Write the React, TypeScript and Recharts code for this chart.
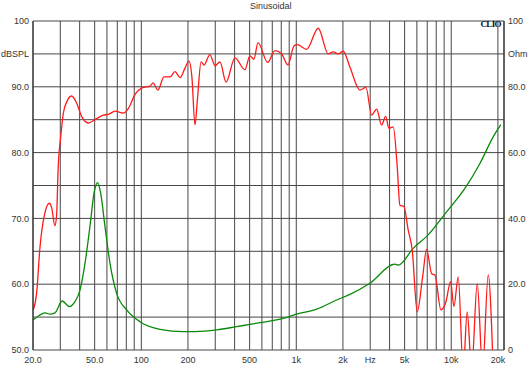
import { LineChart, Line, XAxis, YAxis, CartesianGrid } from "recharts";

// SPL response (red), Hz / dB
const splFreq = [
  20.1, 21.1, 22.2, 23.6, 25.5, 26.4, 27.7, 28.4, 29.1, 30.2, 31.4, 33.0, 35.5,
  38.3, 41.2, 45.5, 50.2, 56.8, 61.2, 67.6, 76.5, 82.4, 91, 103, 114, 119, 128,
  140, 153, 165, 178, 191, 203, 212, 222, 230, 243, 254, 277, 299, 322, 352,
  402, 466, 502, 533, 566, 654, 728, 804, 884, 966, 1014, 1166, 1386, 1608,
  1731, 1865, 2009, 2218, 2576, 2816, 3064, 3300, 3554, 3772, 3963, 4224, 4480,
  4664, 4950, 5278, 5600, 6033, 6536, 6934, 7472, 7846, 8578, 9238, 9906,
  10404, 11092, 11944, 12676, 13534, 14712, 15938, 17314, 18652,
];
const splDb = [
  56.1, 58.6, 65.7, 70.3, 72.3, 71.6, 68.9, 70.5, 77.9, 82.4, 86.0, 87.7, 88.6,
  87.5, 85.5, 84.5, 85.0, 85.7, 85.8, 86.3, 86.0, 86.7, 88.8, 89.9, 90.1, 90.6,
  89.5, 91.5, 91.5, 92.3, 91.4, 92.8, 93.9, 91.5, 84.2, 88.0, 93.8, 93.3, 94.9,
  93.2, 93.8, 90.7, 94.4, 92.6, 94.7, 94.2, 96.7, 93.7, 95.5, 95.0, 93.3, 96.2,
  96.4, 95.7, 98.9, 95.0, 95.3, 95.0, 95.4, 93.0, 89.5, 89.9, 85.7, 86.6, 84.2,
  85.5, 83.7, 83.9, 77.9, 72.0, 71.8, 68.2, 65.2, 55.8, 61.1, 65.3, 61.6, 61.4,
  56.1, 57.3, 60.4, 56.6, 61.1, 47, 55.8, 47, 60.1, 47, 61.4, 47,
];

// impedance (green), Hz / Ohm
const impFreq = [
  20, 21.9, 23.9, 25.7, 27.7, 30.9, 34.3, 37.3, 40.2, 43.3, 46.6, 49.7, 52.3,
  54.7, 58.3, 62.8, 69.3, 80.4, 98, 132, 187, 222, 306, 412, 583, 824, 1005,
  1354, 1822, 2218, 2988, 4330, 4548, 5682, 7100, 9334, 12248, 15310, 18652,
  20900,
];
const impOhm = [
  9.1, 10.5, 11.3, 10.9, 11.3, 14.9, 13.2, 14.7, 18.2, 26.3, 37.5, 48.1, 50.9,
  47.6, 37.5, 26.3, 17.2, 12.2, 8.6, 6.3, 5.6, 5.6, 6.1, 7.1, 8.3, 9.6, 10.9,
  12.4, 15.2, 16.9, 20.3, 26.1, 25.8, 30.9, 35, 42, 49.1, 56.7, 64.8, 68.5,
];

const freqTicks = [
  20, 30, 40, 50, 60, 70, 80, 90, 100, 200, 300, 400, 500, 600, 700, 800, 900,
  1000, 2000, 3000, 4000, 5000, 6000, 7000, 8000, 9000, 10000, 20000,
];
const freqLabels: Record<number, string> = {
  20: "20.0", 50: "50.0", 100: "100", 200: "200", 500: "500", 1000: "1k",
  2000: "2k", 3000: "Hz", 5000: "5k", 10000: "10k", 20000: "20k",
};
const dbTicks = [50, 55, 60, 65, 70, 75, 80, 85, 90, 95, 100];
const dbLabels: Record<number, string> = {
  50: "50.0", 60: "60.0", 70: "70.0", 80: "80.0", 90: "90.0", 95: "dBSPL", 100: "100",
};
const ohmTicks = [0, 10, 20, 30, 40, 50, 60, 70, 80, 90, 100];
const ohmLabels: Record<number, string> = {
  0: "0", 20: "20.0", 40: "40.0", 60: "60.0", 80: "80.0", 90: "Ohm", 100: "100",
};
const minorDb = Array.from({ length: 51 }, (_, i) => 50 + i);
const minorOhm = Array.from({ length: 51 }, (_, i) => i * 2);

const splData = splFreq.map((f, i) => ({ f, v: splDb[i] }));
const impData = impFreq.map((f, i) => ({ f, v: impOhm[i] }));

const FONT = "'Liberation Sans', Arial, sans-serif";
const tickStyle = { fontSize: 9, fill: "#333", fontFamily: FONT };

export default function App() {
  return (
    <div
      style={{
        position: "absolute",
        left: 0,
        top: 0,
        width: 530,
        height: 370,
        background: "#fff",
        fontFamily: FONT,
      }}
    >
      <div style={{ position: "absolute", left: 250, top: 1, fontSize: 9, color: "#333" }}>
        Sinusoidal
      </div>
      <LineChart width={530} height={370} margin={{ top: 21, right: 0, bottom: 0, left: 0 }}>
        <CartesianGrid stroke="#474747" strokeWidth={1} />
        <XAxis
          dataKey="f"
          type="number"
          scale="log"
          domain={[20, 21900]}
          allowDataOverflow
          ticks={freqTicks}
          interval={0}
          tickFormatter={(v: number) => freqLabels[v] ?? ""}
          tick={tickStyle}
          tickSize={0}
          tickMargin={7}
          axisLine={false}
          height={20}
        />
        <YAxis
          domain={[50, 100]}
          allowDataOverflow
          ticks={dbTicks}
          interval={0}
          tickFormatter={(v: number) => dbLabels[v] ?? ""}
          tick={tickStyle}
          tickSize={0}
          tickMargin={4}
          axisLine={{ stroke: "#222" }}
          width={33}
        />
        <YAxis
          yAxisId="ohm"
          orientation="right"
          domain={[0, 100]}
          allowDataOverflow
          ticks={ohmTicks}
          interval={0}
          tickFormatter={(v: number) => ohmLabels[v] ?? ""}
          tick={tickStyle}
          tickSize={0}
          tickMargin={4}
          axisLine={{ stroke: "#222" }}
          width={26}
        />
        <YAxis
          yAxisId="minL"
          mirror
          domain={[50, 100]}
          ticks={minorDb}
          interval={0}
          tickFormatter={() => ""}
          tickSize={3}
          tickLine={{ stroke: "#444" }}
          axisLine={false}
        />
        <YAxis
          yAxisId="minR"
          orientation="right"
          mirror
          domain={[0, 100]}
          ticks={minorOhm}
          interval={0}
          tickFormatter={() => ""}
          tickSize={3}
          tickLine={{ stroke: "#444" }}
          axisLine={false}
        />
        <Line
          data={impData}
          dataKey="v"
          yAxisId="ohm"
          type="monotone"
          stroke="#0a8a0a"
          strokeWidth={1.3}
          dot={false}
          isAnimationActive={false}
        />
        <Line
          data={splData}
          dataKey="v"
          type="monotone"
          stroke="#ff1a1a"
          strokeWidth={1.3}
          dot={false}
          isAnimationActive={false}
        />
      </LineChart>
      <div
        style={{
          position: "absolute",
          right: 29,
          top: 19,
          fontSize: 9,
          fontWeight: "bold",
          fontFamily: "'Liberation Serif', serif",
          letterSpacing: -0.6,
          color: "#111",
        }}
      >
        CLIO
      </div>
    </div>
  );
}
